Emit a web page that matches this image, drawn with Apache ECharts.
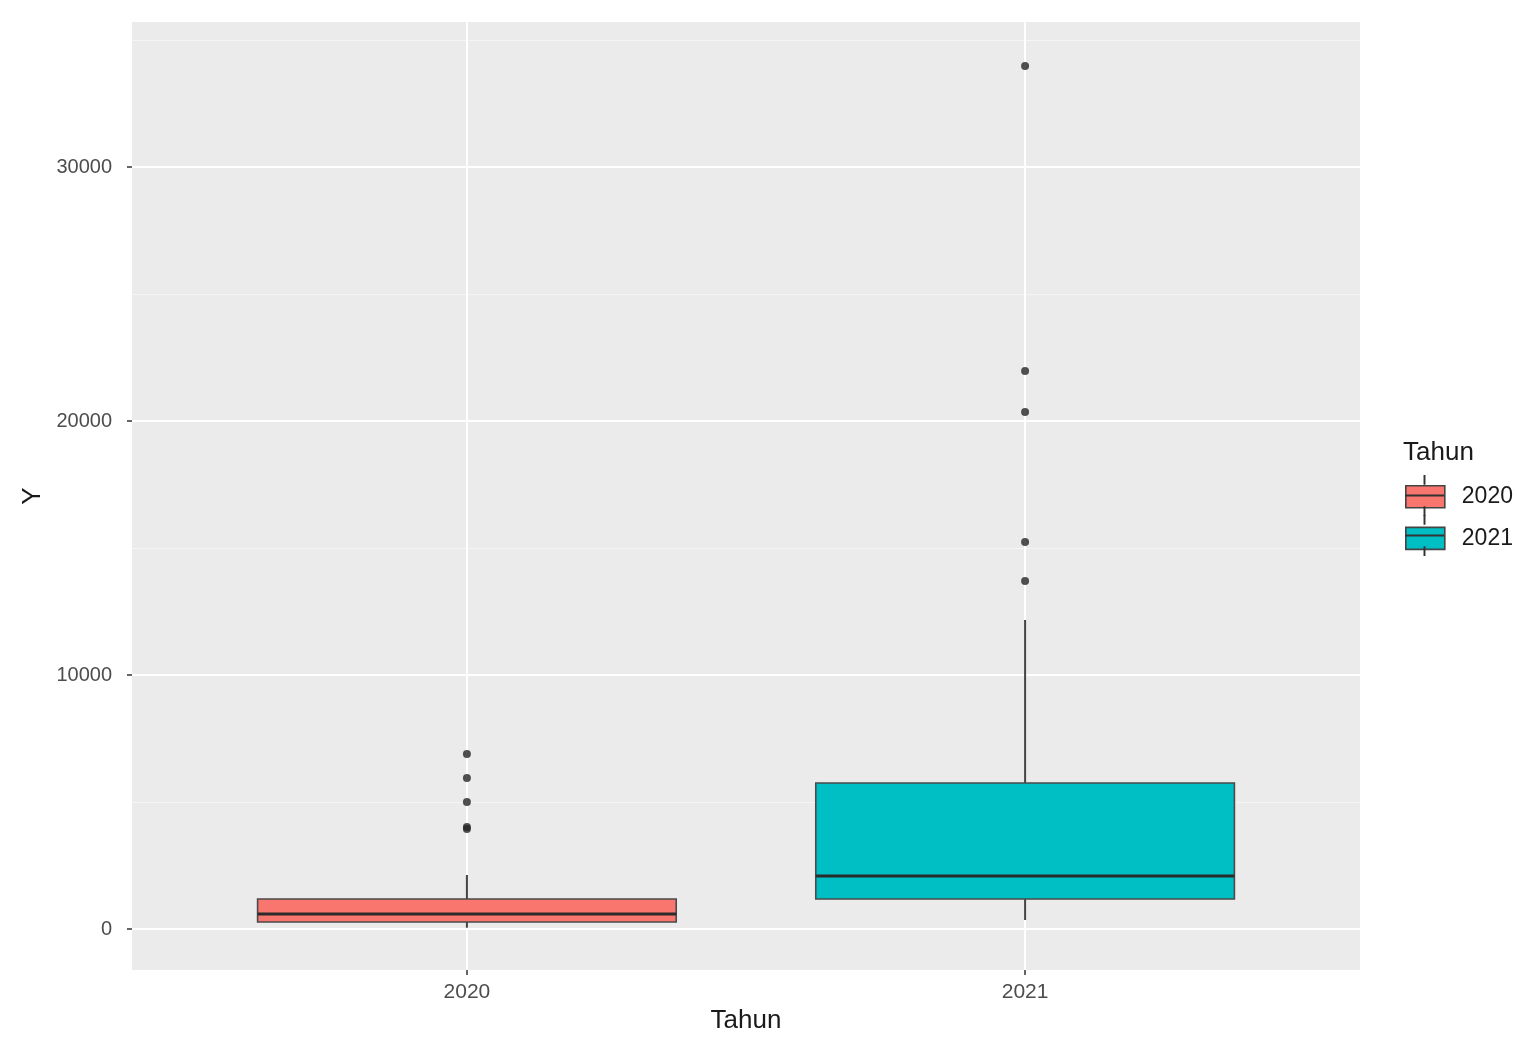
<!DOCTYPE html>
<html>
<head>
<meta charset="utf-8">
<script src="https://cdn.jsdelivr.net/npm/echarts@6/dist/echarts.min.js"></script>
<style>
html,body{margin:0;padding:0;background:#fff;}
#chart{width:1533px;height:1053px;}
</style>
</head>
<body>
<div id="chart"></div>
<script>
// ---- data ----
const categories = ['2020', '2021'];
const catPositions = [1, 2];
const lowWhisker = [50, 354];
const q1 = [276, 1181];
const median = [590, 2087];
const q3 = [1181, 5748];
const highWhisker = [2126, 12165];
const outliers2020 = [6890, 5945, 5000, 4016, 3940];
const outliers2021 = [33976, 21968, 20354, 15236, 13701];
const yMajorTicks = [0, 10000, 20000, 30000];
const yMinorTicks = [5000, 15000, 25000, 35000];
const fillColors = ['#F8766D', '#00BFC4'];

const FONT = '"Liberation Sans", Arial, sans-serif';

function renderBox(params, api) {
  const x = api.value(0);
  const w = api.size([0.75, 0])[0];
  const pLow = api.coord([x, api.value(1)]);
  const pQ1 = api.coord([x, api.value(2)]);
  const pMed = api.coord([x, api.value(3)]);
  const pQ3 = api.coord([x, api.value(4)]);
  const pHigh = api.coord([x, api.value(5)]);
  const color = fillColors[params.seriesIndex];
  const cx = pMed[0];
  return {
    type: 'group',
    children: [
      { type: 'line', shape: { x1: cx, y1: pQ3[1], x2: cx, y2: pHigh[1] }, style: { stroke: '#444', lineWidth: 2 } },
      { type: 'line', shape: { x1: cx, y1: pLow[1], x2: cx, y2: pQ1[1] }, style: { stroke: '#444', lineWidth: 2 } },
      { type: 'rect', shape: { x: cx - w / 2, y: pQ3[1], width: w, height: pQ1[1] - pQ3[1] }, style: { fill: color, stroke: '#4a4a4a', lineWidth: 1.6 } },
      { type: 'line', shape: { x1: cx - w / 2, y1: pMed[1], x2: cx + w / 2, y2: pMed[1] }, style: { stroke: '#2b2b2b', lineWidth: 3 } }
    ]
  };
}

const boxSeries = categories.map((c, i) => ({
  name: c,
  type: 'custom',
  renderItem: renderBox,
  itemStyle: { color: fillColors[i] },
  data: [[catPositions[i], lowWhisker[i], q1[i], median[i], q3[i], highWhisker[i]]],
  z: 2
}));

const outlierSeries = [outliers2020, outliers2021].map((arr, i) => ({
  name: 'outlier' + categories[i],
  type: 'scatter',
  symbolSize: 8,
  itemStyle: { color: '#262626' },
  data: arr.map(v => [catPositions[i], v]),
  z: 3
}));

const chart = echarts.init(document.getElementById('chart'));
chart.setOption({
  backgroundColor: '#ffffff',
  animation: false,
  title: {
    text: 'Tahun', left: 1403, top: 440, padding: 0,
    textStyle: { fontFamily: FONT, fontSize: 26, fontWeight: 'normal', color: '#1a1a1a' }
  },
  legend: [
    {
      orient: 'vertical', left: 1405, top: 485, padding: 0,
      itemWidth: 39, itemHeight: 22, itemGap: 18, selectedMode: false,
      textStyle: { fontFamily: FONT, fontSize: 23, color: '#1a1a1a', lineHeight: 22, padding: [0, 0, 0, 12] },
      data: categories.map((c, i) => ({ name: c, icon: 'rect', itemStyle: { color: fillColors[i], borderColor: '#444', borderWidth: 1.6 } }))
    },
    {
      orient: 'vertical', left: 1405, top: 475, padding: 0,
      itemWidth: 39, itemHeight: 42, itemGap: -1, selectedMode: false,
      textStyle: { fontFamily: FONT, fontSize: 23, color: 'rgba(0,0,0,0)', lineHeight: 22, padding: [0, 0, 0, 12] },
      data: categories.map(c => ({ name: c, icon: 'path://M19,0H21V10H19Z M19,32H21V42H19Z M0,20H40V22H0Z', itemStyle: { color: '#333', borderWidth: 0 } }))
    }
  ],
  grid: {
    left: 132, right: 173, top: 22, bottom: 83,
    show: true, backgroundColor: '#EBEBEB', borderWidth: 0
  },
  xAxis: {
    type: 'value', min: 0.4, max: 2.6,
    name: 'Tahun', nameLocation: 'middle', nameGap: 38,
    nameTextStyle: { fontFamily: FONT, fontSize: 26, color: '#1a1a1a' },
    axisLine: { show: false, onZero: false },
    axisTick: { show: true, length: 5, lineStyle: { color: '#333', width: 1.5 }, customValues: catPositions },
    axisLabel: {
      customValues: catPositions, margin: 12,
      fontFamily: FONT, fontSize: 21, color: '#4D4D4D',
      formatter: v => categories[catPositions.indexOf(Math.round(v))] || ''
    },
    splitLine: { show: true, lineStyle: { color: '#ffffff', width: 2 } }
  },
  yAxis: [
    {
      type: 'value', min: -1614, max: 35709,
      name: 'Y', nameLocation: 'middle', nameGap: 84,
      nameTextStyle: { fontFamily: FONT, fontSize: 26, color: '#1a1a1a' },
      axisLine: { show: false, onZero: false },
      axisTick: { show: true, length: 5, lineStyle: { color: '#333', width: 1.5 }, customValues: yMajorTicks },
      axisLabel: { customValues: yMajorTicks, margin: 20, fontFamily: FONT, fontSize: 20, color: '#4D4D4D', formatter: v => String(Math.round(v)) },
      splitLine: { show: true, lineStyle: { color: '#ffffff', width: 2 } }
    },
    {
      type: 'value', min: -1614, max: 35709, position: 'left',
      axisLine: { show: false, onZero: false },
      axisTick: { show: false, customValues: yMinorTicks },
      axisLabel: { show: false, customValues: yMinorTicks },
      splitLine: { show: true, lineStyle: { color: '#F5F5F5', width: 1 } }
    }
  ],
  series: [...boxSeries, ...outlierSeries]
});
</script>
</body>
</html>
